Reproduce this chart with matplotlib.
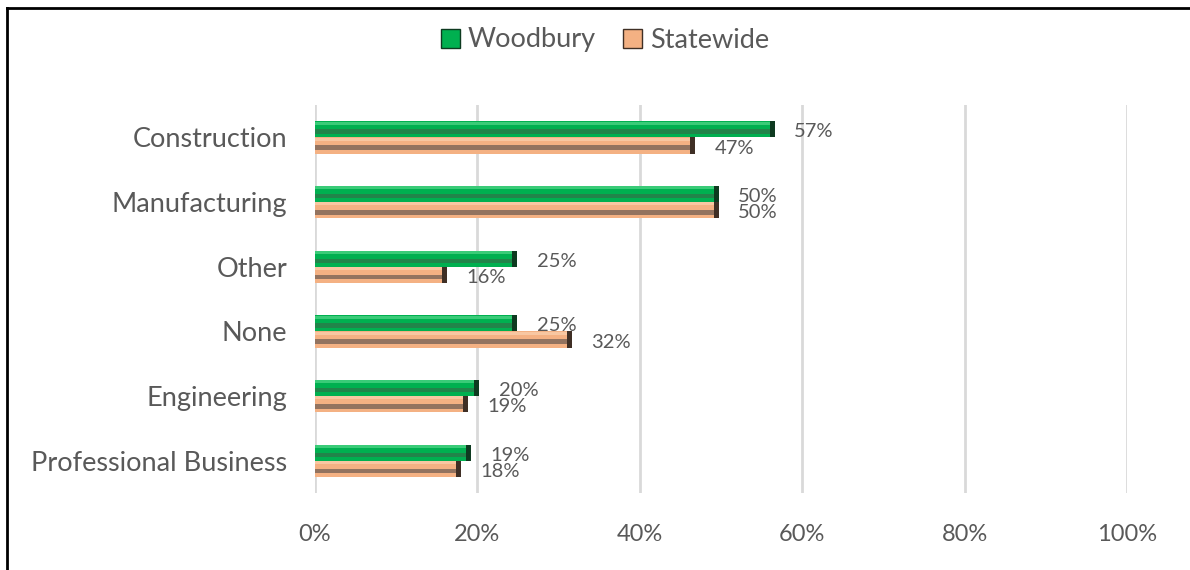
import matplotlib.pyplot as plt
import numpy as np
from matplotlib.lines import Line2D
from matplotlib.patches import Patch

# --- DATA ---
categories = ['Construction', 'Manufacturing', 'Other', 'None', 'Engineering', 'Professional Business']
woodbury = [0.566, 0.497, 0.249, 0.249, 0.202, 0.192]
statewide = [0.468, 0.497, 0.163, 0.316, 0.188, 0.180]
series_names = ['Woodbury', 'Statewide']
xticks = [0, 0.2, 0.4, 0.6, 0.8, 1.0]

GRAY = '#595959'
FONT = 'Lato'

# (base, dark band, light top, end cap)
styles = {
    'Woodbury': ('#00B050', '#22844A', '#3ACB78', '#0E3A20'),
    'Statewide': ('#F4B183', '#93735F', '#F8C7A2', '#3F2F25'),
}


def draw_bar(ax, y, vals, h, name):
    base, dark, light, cap = styles[name]
    ax.barh(y, vals, height=h, color=base, zorder=3)
    # top highlight and lower darker band to fake the bevel
    ax.barh(y - h * 0.38, vals, height=h * 0.18, color=light, zorder=4)
    ax.barh(y + h * 0.14, vals, height=h * 0.28, color=dark, zorder=4)
    ax.barh(y + h * 0.40, vals, height=h * 0.2, color=base, alpha=0.6, zorder=4)
    # dark end cap
    ax.barh(y, [0.006] * len(vals), left=np.array(vals) - 0.006, height=h, color=cap, zorder=5)


def main():
    fig = plt.figure(figsize=(11.9, 5.7), dpi=100)
    ax = fig.add_axes([315 / 1190, 1 - 493 / 570, 812 / 1190, 388 / 570])

    y = np.arange(len(categories))
    h = 0.25
    draw_bar(ax, y - h / 2, woodbury, h, 'Woodbury')
    draw_bar(ax, y + h / 2, statewide, h, 'Statewide')

    for yi, v in zip(y - h / 2, woodbury):
        ax.text(v + 0.024, yi + 0.04, f'{v:.0%}', va='center', ha='left', fontsize=14.5,
                color=GRAY, family=FONT)
    for yi, v in zip(y + h / 2, statewide):
        ax.text(v + 0.024, yi + 0.04, f'{v:.0%}', va='center', ha='left', fontsize=14.5,
                color=GRAY, family=FONT)

    ax.set_ylim(len(categories) - 0.5, -0.5)
    ax.set_xlim(0, 1.0)
    ax.set_yticks(y)
    ax.set_yticklabels(categories, fontsize=19.5, color=GRAY, family=FONT)
    ax.set_xticks(xticks)
    ax.set_xticklabels([f'{t:.0%}' for t in xticks], fontsize=17, color=GRAY, family=FONT)
    ax.tick_params(axis='both', length=0)
    ax.tick_params(axis='y', pad=20)
    ax.tick_params(axis='x', pad=22)
    ax.grid(axis='x', color='#D9D9D9', linewidth=2, zorder=0)
    for s in ax.spines.values():
        s.set_visible(False)

    handles = [Patch(facecolor=styles[n][0], edgecolor=styles[n][3], linewidth=1) for n in series_names]
    fig.legend(handles, series_names, loc='center', bbox_to_anchor=(605 / 1190, 1 - 40 / 570),
               ncol=2, frameon=False, prop={'family': FONT, 'size': 19.5}, labelcolor=GRAY,
               handlelength=0.7, handleheight=0.7, handletextpad=0.3, columnspacing=1.0)

    # outer frame (only top and left edges visible)
    fig.add_artist(Line2D([7 / 1190, 7 / 1190], [0, 1 - 8 / 570], color='black', lw=2))
    fig.add_artist(Line2D([7 / 1190, 1], [1 - 8 / 570, 1 - 8 / 570], color='black', lw=2))

    fig.savefig('out.png', dpi=100)


if __name__ == '__main__':
    main()
